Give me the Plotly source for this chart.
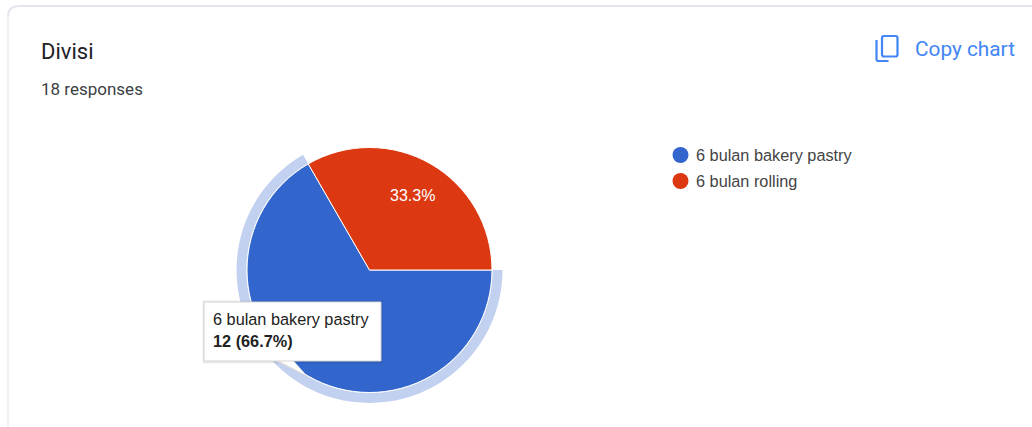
import math
import plotly.graph_objects as go

categories = ["6 bulan bakery pastry", "6 bulan rolling"]
counts = [12, 6]
title = "Divisi"
subtitle = "18 responses"
copy_label = "Copy chart"
highlighted = 0

W, H = 1032, 427
BLUE, RED, HALO = "#3366cc", "#dc3912", "#c2d1f0"
CX, CY = 369.5, 270


def dom(r):
    return dict(x=[(CX - r) / W, (CX + r) / W], y=[1 - (CY + r) / H, 1 - (CY - r) / H])


def px(x0, y0, x1, y1):
    return dict(xref="paper", yref="paper", x0=x0 / W, x1=x1 / W, y0=1 - y0 / H, y1=1 - y1 / H)


def path(points, close=False):
    s = "M " + " L ".join(f"{x / W},{1 - y / H}" for x, y in points)
    return s + (" Z" if close else "")


def rounded(x0, y0, x1, y1, r):
    X = lambda v: v / W
    Y = lambda v: 1 - v / H
    return (f"M {X(x0 + r)},{Y(y0)} L {X(x1 - r)},{Y(y0)} Q {X(x1)},{Y(y0)} {X(x1)},{Y(y0 + r)} "
            f"L {X(x1)},{Y(y1 - r)} Q {X(x1)},{Y(y1)} {X(x1 - r)},{Y(y1)} "
            f"L {X(x0 + r)},{Y(y1)} Q {X(x0)},{Y(y1)} {X(x0)},{Y(y1 - r)} "
            f"L {X(x0)},{Y(y0 + r)} Q {X(x0)},{Y(y0)} {X(x0 + r)},{Y(y0)} Z")


fig = go.Figure()

# highlight ring for the hovered slice
fig.add_trace(go.Pie(
    labels=categories, values=counts, sort=False, direction="clockwise", rotation=90,
    domain=dom(133), hole=123 / 133, textinfo="none", hoverinfo="skip", showlegend=False,
    marker=dict(colors=[HALO if i == highlighted else "rgba(0,0,0,0)" for i in range(len(counts))],
                line=dict(width=0)),
))
fig.add_trace(go.Pie(
    labels=categories, values=counts, sort=False, direction="clockwise", rotation=90,
    domain=dom(122.5), textinfo="none", showlegend=False,
    marker=dict(colors=[BLUE, RED], line=dict(color="#ffffff", width=1)),
))

shapes = [
    dict(type="path", path=path([(8, 427), (8, 17)]), line=dict(color="#e3e3e3", width=1)),
    dict(type="path", path=f"M {8 / W},{1 - 17 / H} Q {8 / W},{1 - 6 / H} {19 / W},{1 - 6 / H} L 1,{1 - 6 / H}",
         line=dict(color="#e6e4f0", width=2)),
    # copy icon
    dict(type="path", path=rounded(882, 36, 897.5, 56.5, 2), line=dict(color="#4285f4", width=2.2)),
    dict(type="path", path=path([(876.5, 40), (876.5, 59)]) + f" Q {876.5 / W},{1 - 61 / H} {878.5 / W},{1 - 61 / H} L {888.5 / W},{1 - 61 / H}",
         line=dict(color="#4285f4", width=2.2)),
]
# legend dots
for i, c in enumerate([BLUE, RED]):
    y = 155 + 26 * i
    shapes.append(dict(type="circle", **px(672.5, y - 8, 688.5, y + 8), fillcolor=c, line=dict(width=0)))
# tooltip shadow, pointer and box
for grow, alpha in [(2, 0.03), (1, 0.05)]:
    shapes.append(dict(type="rect", **px(204 - grow, 302 - grow, 381 + grow, 361 + grow + 1),
                       fillcolor=f"rgba(0,0,0,{alpha})", line=dict(width=0)))
shapes.append(dict(type="path", path=path([(275, 361), (308, 377), (294, 361)], True),
                   fillcolor="#d9d9d9", line=dict(width=0)))
shapes.append(dict(type="path", path=path([(277, 360), (306, 375), (292, 360)], True),
                   fillcolor="#ffffff", line=dict(width=0)))
shapes.append(dict(type="rect", **px(204, 302, 381, 361), fillcolor="#ffffff",
                   line=dict(color="#d4d4d4", width=1)))


def note(x, y, text, size, color, family="Roboto", weight=None, anchor="left"):
    font = dict(family=family, size=size, color=color)
    if weight:
        font["weight"] = weight
    return dict(xref="paper", yref="paper", x=x / W, y=1 - y / H, text=text, showarrow=False,
                xanchor=anchor, yanchor="middle", align="left", font=font)


# slice label placed along the bisector of the non-highlighted slice
total = sum(counts)
mid_deg = 90 + 360 * (counts[0] + counts[1] / 2) / total
lx = CX + 86 * math.sin(math.radians(mid_deg))
ly = CY - 86 * math.cos(math.radians(mid_deg))

annotations = [
    note(39, 51, title, 22, "#202124"),
    note(39, 89, subtitle, 17, "#3c4043"),
    note(913, 49, copy_label, 20.8, "#4285f4", weight=400),
    note(693.5, 155, categories[0], 16.3, "#444444", "Liberation Sans"),
    note(693.5, 181, categories[1], 16.3, "#444444", "Liberation Sans"),
    note(211, 319, categories[highlighted], 16.3, "#222222", "Liberation Sans"),
    note(211, 341, f"<b>{counts[highlighted]} ({counts[highlighted] / total:.1%})</b>", 16.3, "#222222", "Liberation Sans"),
    note(lx, ly, f"{counts[1] / total:.1%}", 16, "#ffffff", "Liberation Sans", anchor="center"),
]

fig.update_layout(
    width=W, height=H, margin=dict(l=0, r=0, t=0, b=0),
    paper_bgcolor="#ffffff", showlegend=False, shapes=shapes, annotations=annotations,
)
fig.write_html("out.html", config=dict(displayModeBar=False),
               post_script="document.body.style.margin='0';document.body.style.overflow='hidden';")
